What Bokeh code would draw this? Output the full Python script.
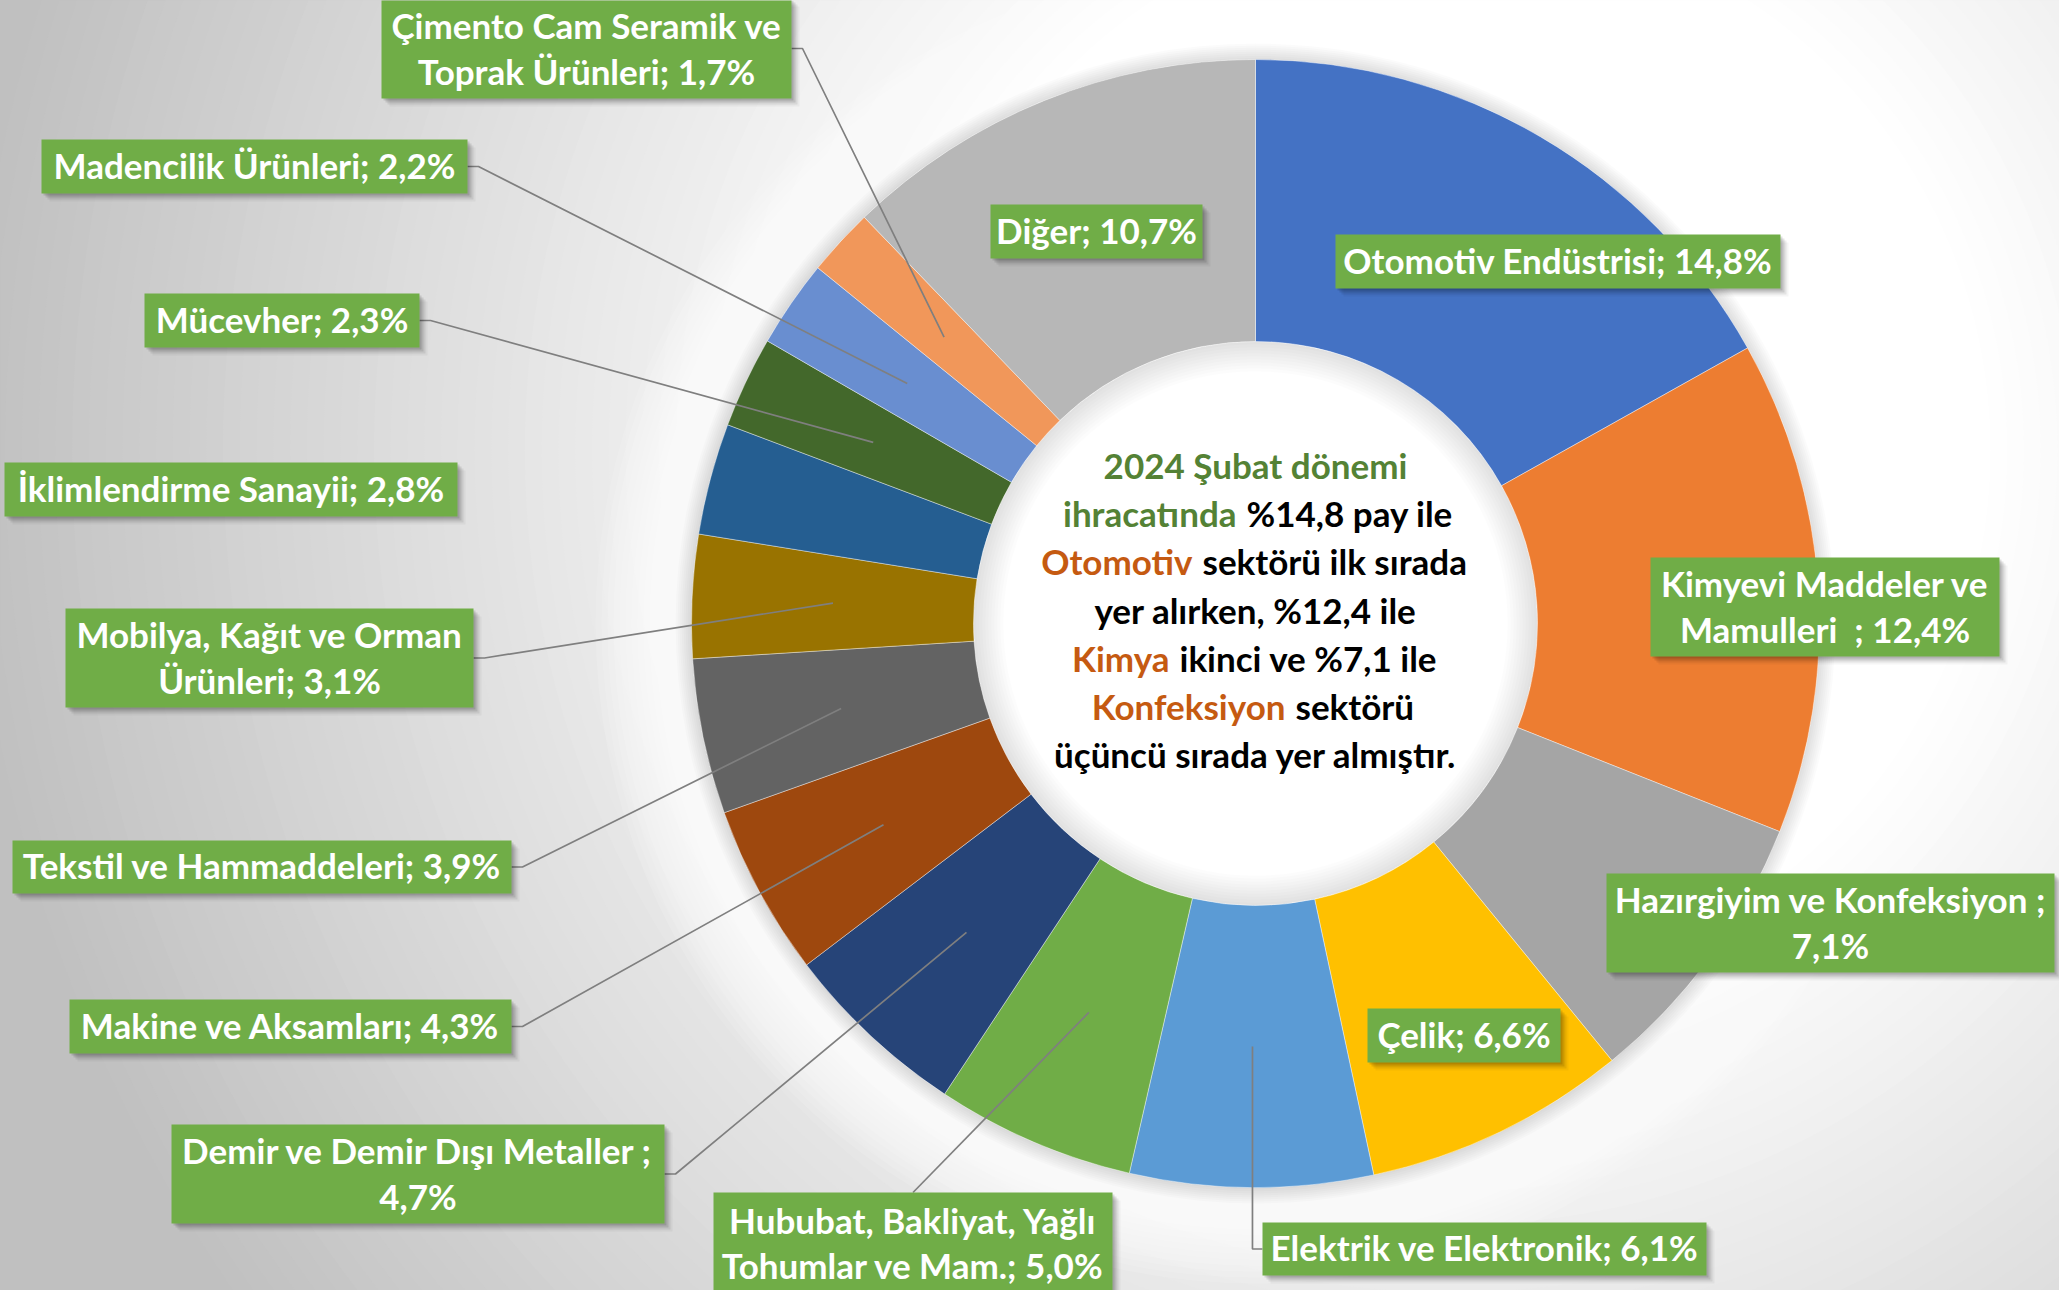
import numpy as np
from bokeh.plotting import figure
from bokeh.models import Range1d
from bokeh.core.properties import value
from bokeh.embed import file_html
from bokeh.resources import INLINE

# ---------------- data ----------------
categories = [
    "Otomotiv Endüstrisi",
    "Kimyevi Maddeler ve Mamulleri  ",
    "Hazırgiyim ve Konfeksiyon ",
    "Çelik",
    "Elektrik ve Elektronik",
    "Hububat, Bakliyat, Yağlı Tohumlar ve Mam.",
    "Demir ve Demir Dışı Metaller ",
    "Makine ve Aksamları",
    "Tekstil ve Hammaddeleri",
    "Mobilya, Kağıt ve Orman Ürünleri",
    "İklimlendirme Sanayii",
    "Mücevher",
    "Madencilik Ürünleri",
    "Çimento Cam Seramik ve Toprak Ürünleri",
    "Diğer",
]
values = [14.8, 12.4, 7.1, 6.6, 6.1, 5.0, 4.7, 4.3, 3.9, 3.1, 2.8, 2.3, 2.2, 1.7, 10.7]
colors = ["#4472C4", "#ED7D31", "#A5A5A5", "#FFC000", "#5B9BD5", "#70AD47", "#264478",
          "#9E480E", "#636363", "#997300", "#255E91", "#43682B", "#698ED0", "#F1975A", "#B7B7B7"]

center_lines = [
    [("2024 Şubat dönemi", "green")],
    [("ihracatında", "green"), ("%14,8 pay ile", "black")],
    [("Otomotiv", "orange"), ("sektörü ilk sırada", "black")],
    [("yer alırken, %12,4 ile", "black")],
    [("Kimya", "orange"), ("ikinci ve %7,1 ile", "black")],
    [("Konfeksiyon", "orange"), ("sektörü", "black")],
    [("üçüncü sırada yer almıştır.", "black")],
]

# ---------------- layout (screen pixel coordinates of the page) ----------------
W, H = 2059, 1290
def sx(X):
    return X
def sy(Y):
    return H - Y

CX, CY = 1255, 623          # donut centre (screen)
R_OUT, R_IN = 564, 282

# box: (x0, x1, y0, y1) screen, first line (None = single line), leader type
label_layout = {
    0: ((1335, 1780, 234, 288), None, None),
    1: ((1650, 1999, 557, 656), "Kimyevi Maddeler ve", None),
    2: ((1606, 2054, 873, 972), "Hazırgiyim ve Konfeksiyon ;", None),
    3: ((1367, 1560, 1008, 1062), None, None),
    4: ((1262, 1706, 1222, 1275), None, "left"),
    5: ((713, 1112, 1192, 1296), "Hububat, Bakliyat, Yağlı", "top"),
    6: ((171, 664, 1124, 1223), "Demir ve Demir Dışı Metaller ;", "right"),
    7: ((69, 511, 999, 1053), None, "right"),
    8: ((12, 511, 840, 893), None, "right"),
    9: ((65, 473, 608, 707), "Mobilya, Kağıt ve Orman", "right"),
    10: ((4, 457, 462, 516), None, None),
    11: ((144, 419, 293, 347), None, "right"),
    12: ((41, 467, 139, 193), None, "right"),
    13: ((381, 791, -2, 98), "Çimento Cam Seramik ve", "right"),
    14: ((990, 1202, 204, 258), None, None),
}
two_line_offsets = {5: (-25, 20)}
center_y = [467, 515, 563, 612, 660, 708, 756]
center_split = {1: 1241, 2: 1197, 4: 1174, 5: 1290}
palette_text = {"green": "#548235", "orange": "#C55A11", "black": "#000000"}

FONT = value("Lato")
LABEL_SIZE = "35px"
CENTER_SIZE = "35px"

# ---------------- figure ----------------
p = figure(width=W, height=H, x_range=Range1d(0, W), y_range=Range1d(0, H),
           output_backend="svg", toolbar_location=None,
           x_axis_location=None, y_axis_location=None, min_border=0,
           background_fill_color="white", border_fill_color="white",
           outline_line_color=None)
p.grid.visible = False

# background radial gradient
gx, gy = sx(1450), sy(450)
g_r = np.linspace(2200, 540, 100)
g_v = 255 - 63 * np.clip((g_r - 550) / 950.0, 0, 1)
g_c = ["#%02x%02x%02x" % (int(v), int(v), int(v)) for v in g_v]
p.circle(x=[gx] * len(g_r), y=[gy] * len(g_r), radius=g_r, fill_color=g_c, line_color=None)

cx, cy = sx(CX), sy(CY)
# white glow around donut
k = np.arange(1, 17)
p.annulus(x=[cx] * len(k), y=[cy] * len(k), inner_radius=R_OUT, outer_radius=R_OUT + 6 * k,
          fill_color="white", fill_alpha=0.13, line_color=None)
# soft shadow at outer edge
k2 = np.arange(1, 9)
p.annulus(x=[cx] * len(k2), y=[cy] * len(k2), inner_radius=R_OUT, outer_radius=R_OUT + 2 * k2,
          fill_color="black", fill_alpha=0.016, line_color=None)
# hole
p.circle(x=[cx], y=[cy], radius=R_IN, fill_color="white", line_color=None)
k3 = np.arange(1, 11)
p.annulus(x=[cx] * len(k3), y=[cy] * len(k3), inner_radius=R_IN - 3 * k3, outer_radius=R_IN,
          fill_color="black", fill_alpha=0.012, line_color=None)

# donut slices
vals = np.array(values, dtype=float)
frac = vals / vals.sum()
cum = np.concatenate([[0.0], np.cumsum(frac)])
th0 = cum[:-1] * 2 * np.pi
th1 = cum[1:] * 2 * np.pi
p.annular_wedge(x=cx, y=cy, inner_radius=R_IN, outer_radius=R_OUT,
                start_angle=np.pi / 2 - th1, end_angle=np.pi / 2 - th0,
                fill_color=colors, line_color="white", line_width=0.8, line_alpha=0.5)

# anchors (mid angle, mid radius)
mid = (th0 + th1) / 2
RM = (R_IN + R_OUT) / 2
anc_x = cx + RM * np.sin(mid)
anc_y = cy + RM * np.cos(mid)

def fmt(v):
    return ("%.1f" % v).replace(".", ",")

lx, ly = [], []
q_l, q_r, q_t, q_b = [], [], [], []
tx, ty, tt = [], [], []
for i, cat in enumerate(categories):
    (x0, x1, y0, y1), first, leader = label_layout[i]
    full = f"{cat}; {fmt(values[i])}%"
    xc = (x0 + x1) / 2
    yc = (y0 + y1) / 2
    q_l.append(sx(x0)); q_r.append(sx(x1)); q_t.append(sy(y0)); q_b.append(sy(y1))
    if first is None:
        tx.append(sx(xc)); ty.append(sy(yc - 2)); tt.append(full)
    else:
        second = full[len(first):].strip().replace("  ", "\u00a0\u00a0")
        o1, o2 = two_line_offsets.get(i, (-24, 22))
        tx += [sx(xc), sx(xc)]
        ty += [sy(yc + o1), sy(yc + o2)]
        tt += [first, second]
    ax, ay = anc_x[i], anc_y[i]
    if leader == "right":
        lx.append([sx(x1), sx(x1) + 11, ax]); ly.append([sy(yc), sy(yc), ay])
    elif leader == "top":
        lx.append([sx(xc), ax]); ly.append([sy(y0), ay])
    elif leader == "left":
        lx.append([sx(x0), ax, ax]); ly.append([sy(yc), sy(yc), ay])

p.multi_line(xs=lx, ys=ly, line_color="#7F7F7F", line_width=1.7)

# label shadows and boxes
for off, a in [(2, 0.12), (4, 0.10), (6, 0.07), (8, 0.04)]:
    p.quad(left=[v + off for v in q_l], right=[v + off for v in q_r],
           top=[v - off for v in q_t], bottom=[v - off for v in q_b],
           fill_color="black", fill_alpha=a, line_color=None)
p.quad(left=q_l, right=q_r, top=q_t, bottom=q_b, fill_color="#70AD47", line_color=None)
p.text(x=tx, y=ty, text=tt, text_font=FONT, text_font_style="bold", text_font_size=LABEL_SIZE,
       text_color="white", text_align="center", text_baseline="middle")

# centre text
cxs, cys, cts, ccol, cal = [], [], [], [], []
for j, parts in enumerate(center_lines):
    yy = sy(center_y[j] - 3)
    if len(parts) == 1:
        cxs.append(sx(CX)); cys.append(yy); cts.append(parts[0][0])
        ccol.append(palette_text[parts[0][1]]); cal.append("center")
    else:
        s = center_split[j]
        cxs += [sx(s - 5), sx(s + 5)]; cys += [yy, yy]
        cts += [parts[0][0], parts[1][0]]
        ccol += [palette_text[parts[0][1]], palette_text[parts[1][1]]]
        cal += ["right", "left"]
p.text(x=cxs, y=cys, text=cts, text_font=FONT, text_font_style="bold", text_font_size=CENTER_SIZE,
       text_color=ccol, text_align=cal, text_baseline="middle")

open("out.html", "w").write(file_html(p, INLINE))
